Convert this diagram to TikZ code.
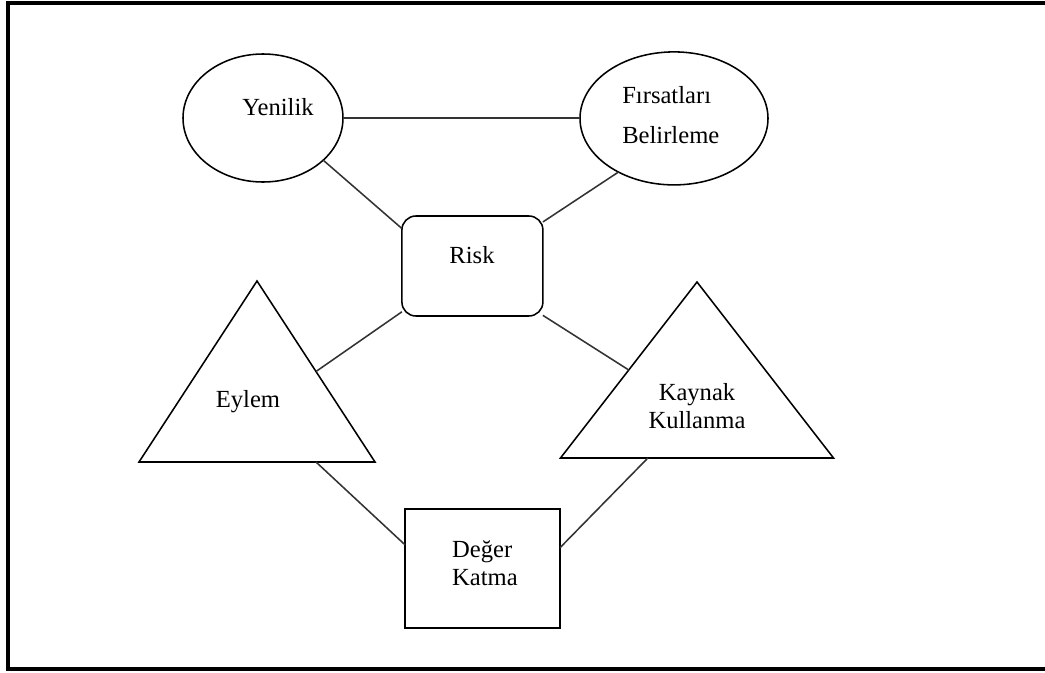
\documentclass[tikz,border=0pt]{standalone}
\usepackage{fontspec}
\setmainfont{Liberation Serif}
\usetikzlibrary{shapes.geometric,calc}
\tikzset{
    shapeline/.style={draw, line width=1.1pt, inner sep=0pt, outer sep=0pt},
    oval/.style={shapeline, ellipse},
    tri/.style={shapeline, isosceles triangle, isosceles triangle stretches, shape border rotate=90, anchor=apex},
    txt/.style={font=\fontsize{17.5}{20}\selectfont, inner sep=0pt},
    link/.style={line width=1.1pt, black!80}
}

\begin{document}
\begin{tikzpicture}
    % Fix the canvas
    \useasboundingbox (0,0) rectangle (26.125,-16.8);

    % Draw outer frame (right side runs off the page)
    \draw[line width=3.2pt] (26.5,-0.075) -- (0.2,-0.075) -- (0.2,-16.725) -- (26.5,-16.725);

    % Draw the shapes
    \node[oval, minimum width=4cm, minimum height=3.2cm] (yen) at (6.575,-2.95) {};
    \node[oval, minimum width=4.7cm, minimum height=3.325cm] (fir) at (16.85,-2.96) {};
    \node[shapeline, rounded corners=0.35cm, minimum width=3.525cm, minimum height=2.5cm] (risk) at (11.81,-6.65) {};
    \node[tri, minimum width=5.9cm, minimum height=4.525cm] (eyl) at (6.425,-7.025) {};
    \node[tri, minimum width=6.825cm, minimum height=4.4cm] (kay) at (17.425,-7.05) {};
    \node[shapeline, minimum width=3.875cm, minimum height=2.975cm] (deg) at (12.0625,-14.2125) {};

    % Add the labels
    \node[txt] (yen-t) at (6.95,-2.675) {Yenilik};
    \node[txt, align=left, anchor=west] (fir-t) at (15.55,-2.875) {Fırsatları\\[0.3cm]Belirleme};
    \node[txt] (risk-t) at (11.8,-6.375) {Risk};
    \node[txt] (eyl-t) at (6.2,-10.05) {Eylem};
    \node[txt, align=center] (kay-t) at (17.425,-10.15) {Kaynak\\Kullanma};
    \node[txt, align=left] (deg-t) at (12.125,-14.075) {Değer\\Katma};

    % Connect the shapes
    \draw[link] (yen.east) -- (yen.east -| fir.west);
    \draw[link] (yen.-35) -- (risk.152);
    \draw[link] (fir.224) -- (risk.32);
    \draw[link] (eyl.right side) -- (risk.213);
    \draw[link] (kay.left side) -- (risk.325);
    \draw[link] ($(eyl.left corner)!.75!(eyl.right corner)$) -- (deg.163);
    \draw[link] ($(kay.left corner)!.32!(kay.right corner)$) -- (deg.15);
\end{tikzpicture}
\end{document}
